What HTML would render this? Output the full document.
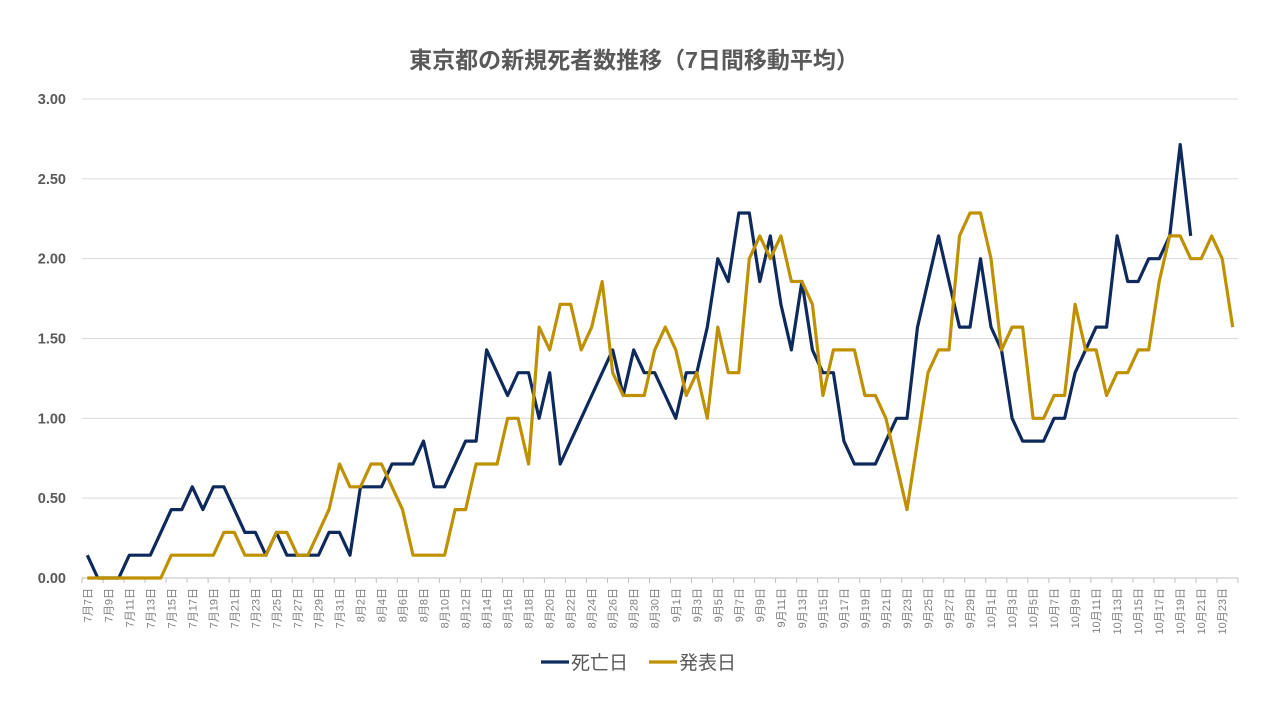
<!DOCTYPE html>
<html><head><meta charset="utf-8"><style>
html,body{margin:0;padding:0;background:#fff;}
svg{display:block;font-family:"Liberation Sans","Noto Sans CJK JP",sans-serif;}
</style></head><body>
<svg id="c" width="1280" height="720" viewBox="0 0 1280 720" xmlns="http://www.w3.org/2000/svg">
<rect width="1280" height="720" fill="#fff"/>
<text x="634" y="68" text-anchor="middle" font-size="23" font-weight="bold" fill="#595959">東京都の新規死者数推移（7日間移動平均）</text>
<g id="grid"></g><g id="xl"></g>
<path id="pb" fill="none" stroke="#0e2a5c" stroke-width="3.2" stroke-linejoin="round"/>
<path id="po" fill="none" stroke="#bf9000" stroke-width="3.2" stroke-linejoin="round"/>
<line x1="541" y1="662" x2="569" y2="662" stroke="#0e2a5c" stroke-width="3.2"/>
<text x="571" y="669" font-size="19" fill="#595959">死亡日</text>
<line x1="649" y1="662" x2="677" y2="662" stroke="#bf9000" stroke-width="3.2"/>
<text x="679" y="669" font-size="19" fill="#595959">発表日</text>
</svg>
<script>
var NS="http://www.w3.org/2000/svg";
function el(t,a,p,txt){var e=document.createElementNS(NS,t);for(var k in a)e.setAttribute(k,a[k]);if(txt!=null)e.textContent=txt;p.appendChild(e);return e;}
var x0=82,x1=1238,n=110,w=(x1-x0)/n,y0=578,py=(578-99)/3;
var g=document.getElementById('grid');
for(var i=0;i<=6;i++){var y=y0-i*0.5*py;
 el('line',{x1:x0,x2:x1,y1:y,y2:y,stroke:i==0?'#bfbfbf':'#d9d9d9','stroke-width':1},g);
 el('text',{x:66,y:y+5,'text-anchor':'end','font-size':14.5,'font-weight':'bold',fill:'#595959'},g,(i*0.5).toFixed(2));}
var xl=document.getElementById('xl');
var md=[31,31,30,31];
for(var i=0;i<=n;i+=2){var x=x0+i*w;el('line',{x1:x,x2:x,y1:y0,y2:y0+5,stroke:'#bfbfbf'},xl);}
el('line',{x1:x1,x2:x1,y1:y0,y2:y0+5,stroke:'#bfbfbf'},xl);
for(var i=0;i<n;i+=2){var m=7,d=7+i;while(d>md[m-7]){d-=md[m-7];m++;}
 var x=x0+(i+0.5)*w+4;
 el('text',{x:0,y:0,transform:'translate('+x+',588) rotate(-90)','text-anchor':'end','font-size':11,fill:'#7f7f7f'},xl,m+'月'+d+'日');}
var B=[1,0,0,0,1,1,1,2,3,3,4,3,4,4,3,2,2,1,2,1,1,1,1,2,2,1,4,4,4,5,5,5,6,4,4,5,6,6,10,9,8,9,9,7,9,5,6,7,8,9,10,8,10,9,9,8,7,9,9,11,14,13,16,16,13,15,12,10,13,10,9,9,6,5,5,5,6,7,7,11,13,15,13,11,11,14,11,10,7,6,6,6,7,7,9,10,11,11,15,13,13,14,14,15,19,15];
var O=[0,0,0,0,0,0,0,0,1,1,1,1,1,2,2,1,1,1,2,2,1,1,2,3,5,4,4,5,5,4,3,1,1,1,1,3,3,5,5,5,7,7,5,11,10,12,12,10,11,13,9,8,8,8,10,11,10,8,9,7,11,9,9,14,15,14,15,13,13,12,8,10,10,10,8,8,7,5,3,6,9,10,10,15,16,16,14,10,11,11,7,7,8,8,12,10,10,8,9,9,10,10,13,15,15,14,14,15,14,11];
function path(a){return a.map(function(v,i){return (i?'L':'M')+(x0+(i+0.5)*w).toFixed(1)+','+(y0-v/7*py).toFixed(1);}).join('');}
document.getElementById('pb').setAttribute('d',path(B));
document.getElementById('po').setAttribute('d',path(O));
</script>
</body></html>
